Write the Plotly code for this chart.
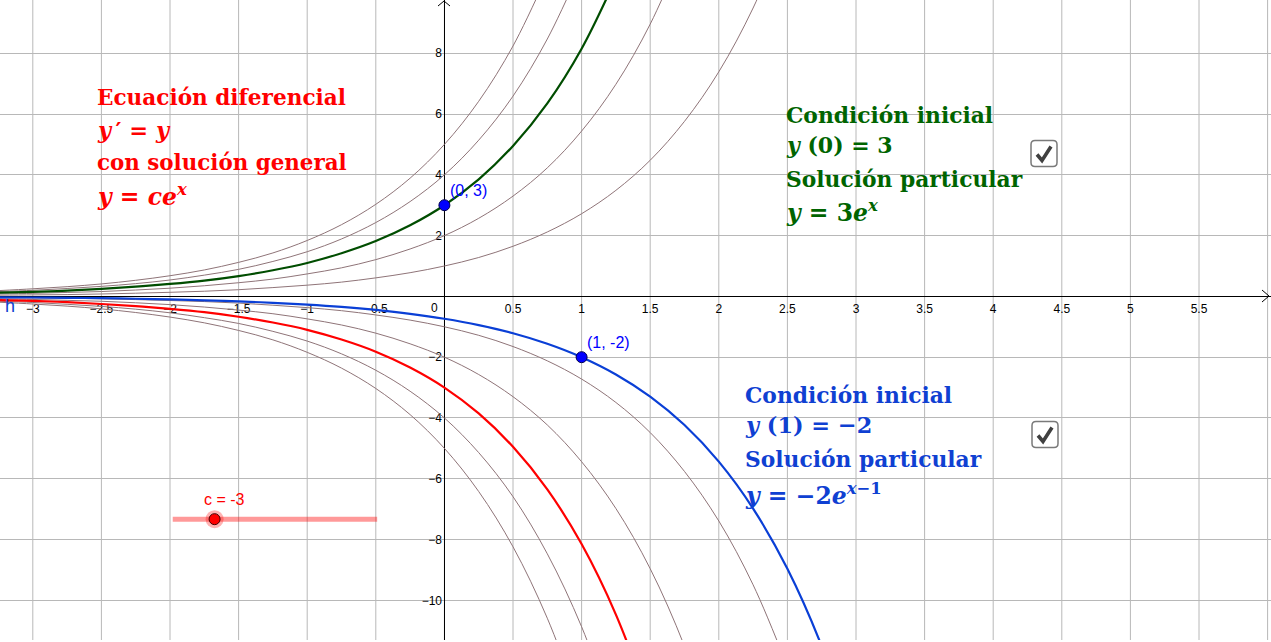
import plotly.graph_objects as go

W, H = 1271, 640
X0, XS = 444.4, 137.2
Y0, YS = 296.4, 30.39

x_samples = [-3.25, -3, -2.75, -2.5, -2.25, -2, -1.75, -1.5, -1.25, -1, -0.75, -0.5, -0.25,
             0, 0.25, 0.5, 0.75, 1, 1.25, 1.5, 1.75, 2, 2.25, 2.5, 2.75, 3]

thin_p1 = [.04, .05, .06, .08, .105, .135, .17, .22, .29, .37, .47, .61, .78, 1, 1.28, 1.65, 2.12, 2.72, 3.49, 4.48, 5.76, 7.39, 9.49, 12.18]
thin_p2 = [.08, .10, .13, .16, .21, .27, .35, .45, .57, .74, .94, 1.21, 1.56, 2, 2.57, 3.30, 4.23, 5.44, 6.98, 8.96, 11.51]
thin_p4 = [.16, .20, .26, .33, .42, .54, .70, .89, 1.15, 1.47, 1.89, 2.43, 3.12, 4, 5.14, 6.59, 8.47, 10.87]
thin_p5 = [.19, .25, .32, .41, .53, .68, .87, 1.12, 1.43, 1.84, 2.36, 3.03, 3.89, 5, 6.42, 8.24, 10.59]
thin_n1 = [-.04, -.05, -.06, -.08, -.105, -.135, -.17, -.22, -.29, -.37, -.47, -.61, -.78, -1, -1.28, -1.65, -2.12, -2.72, -3.49, -4.48, -5.76, -7.39, -9.49, -12.18]
thin_n2 = [-.08, -.10, -.13, -.16, -.21, -.27, -.35, -.45, -.57, -.74, -.94, -1.21, -1.56, -2, -2.57, -3.30, -4.23, -5.44, -6.98, -8.96, -11.51, -14.78]
thin_n4 = [-.16, -.20, -.26, -.33, -.42, -.54, -.70, -.89, -1.15, -1.47, -1.89, -2.43, -3.12, -4, -5.14, -6.59, -8.47, -10.87, -13.96]
thin_n5 = [-.19, -.25, -.32, -.41, -.53, -.68, -.87, -1.12, -1.43, -1.84, -2.36, -3.03, -3.89, -5, -6.42, -8.24, -10.59, -13.59]
green_curve = [.12, .15, .19, .25, .32, .41, .52, .67, .86, 1.10, 1.42, 1.82, 2.34, 3, 3.85, 4.95, 6.35, 8.15, 10.47]
red_curve = [-.12, -.15, -.19, -.25, -.32, -.41, -.52, -.67, -.86, -1.10, -1.42, -1.82, -2.34, -3, -3.85, -4.95, -6.35, -8.15, -10.47, -13.45]
blue_curve = [-.029, -.037, -.047, -.060, -.077, -.100, -.128, -.164, -.211, -.271, -.347, -.446, -.573, -.736,
              -.945, -1.213, -1.558, -2, -2.568, -3.297, -4.234, -5.437, -6.981, -8.963, -11.51, -14.78]

x_ticks = [-3, -2.5, -2, -1.5, -1, -0.5, 0.5, 1, 1.5, 2, 2.5, 3, 3.5, 4, 4.5, 5, 5.5]
x_labels = ["\u22123", "\u22122.5", "\u22122", "\u22121.5", "\u22121", "\u22120.5", "0.5", "1", "1.5", "2", "2.5", "3", "3.5", "4", "4.5", "5", "5.5"]
y_ticks = [-10, -8, -6, -4, -2, 2, 4, 6, 8]
y_labels = ["\u221210", "\u22128", "\u22126", "\u22124", "\u22122", "2", "4", "6", "8"]
x_grid = [-3, -2.5, -2, -1.5, -1, -0.5, 0, 0.5, 1, 1.5, 2, 2.5, 3, 3.5, 4, 4.5, 5, 5.5, 6]

points_x = [0, 1]
points_y = [3, -2]
slider_x = [-1.98, -0.49]
slider_y = [-7.33, -7.33]
slider_knob_x = [-1.675]
slider_knob_y = [-7.33]

THIN = "#8f7478"
GREEN = "#004d00"
RED = "#ff0000"
BLUE = "#0a3fd6"
GRID = "#b8b8b8"
TXT_G = "#006400"
TXT_B = "#0f40d2"
SERIF = "DejaVu Serif"
SANS = "Liberation Sans"


def fx(px):
    return px / W


def fy(py):
    return 1 - py / H


fig = go.Figure()
for ys in [thin_p1, thin_p2, thin_p4, thin_p5, thin_n1, thin_n2, thin_n4, thin_n5]:
    fig.add_trace(go.Scatter(x=x_samples[:len(ys)], y=ys, mode="lines",
                             line=dict(color=THIN, width=1, shape="spline"), hoverinfo="skip"))
for ys, col in [(green_curve, GREEN), (red_curve, RED), (blue_curve, BLUE)]:
    fig.add_trace(go.Scatter(x=x_samples[:len(ys)], y=ys, mode="lines",
                             line=dict(color=col, width=2.2, shape="spline"), hoverinfo="skip"))
fig.add_trace(go.Scatter(x=points_x, y=points_y, mode="markers",
                         marker=dict(color="#0000ff", size=11, line=dict(color="#00004d", width=1)), hoverinfo="skip"))
fig.add_trace(go.Scatter(x=slider_x, y=slider_y, mode="lines",
                         line=dict(color="rgba(255,0,0,0.4)", width=5), hoverinfo="skip"))
fig.add_trace(go.Scatter(x=slider_knob_x, y=slider_knob_y, mode="markers",
                         marker=dict(color="rgba(255,0,0,0.3)", size=18), hoverinfo="skip"))
fig.add_trace(go.Scatter(x=slider_knob_x, y=slider_knob_y, mode="markers",
                         marker=dict(color="#ff0000", size=11, line=dict(color="#400000", width=1)), hoverinfo="skip"))

annotations = []


def text(px, py, s, color, size, family=SERIF, anchor="left"):
    annotations.append(dict(xref="paper", yref="paper", x=fx(px), y=fy(py), text=s, showarrow=False,
                            xanchor=anchor, yanchor="middle", align="left", borderpad=0,
                            font=dict(color=color, size=size, family=family)))


SZ = 21.8
FORMULA = 23.5
text(95.5, 98, "<b>Ecuación diferencial</b>", RED, 21.6)
text(95.5, 130, "<b><i>y</i>\u2009\u2032 = <i>y</i></b>", RED, 22.5)
text(95.5, 162, "<b>con solución general</b>", RED, 21.4)
text(95.5, 195, "<b><i>y</i> = <i>ce<sup>x</sup></i></b>", RED, FORMULA)

text(784.5, 115, "<b>Condición inicial</b>", TXT_G, SZ)
text(784.5, 145, "<b><i>y</i> (0) = 3</b>", TXT_G, 22)
text(784.5, 179, "<b>Solución particular</b>", TXT_G, SZ)
text(784.5, 211, "<b><i>y</i> = 3<i>e<sup>x</sup></i></b>", TXT_G, FORMULA)

text(743.5, 395, "<b>Condición inicial</b>", TXT_B, SZ)
text(743.5, 425, "<b><i>y</i> (1) = \u22122</b>", TXT_B, 22.4)
text(743.5, 459, "<b>Solución particular</b>", TXT_B, SZ)
text(743.5, 494, "<b><i>y</i> = \u22122<i>e</i><sup><i>x</i>\u22121</sup></b>", TXT_B, FORMULA)

text(449, 190, "(0, 3)", "#0000ff", 16, SANS)
text(586, 342, "(1, -2)", "#0000ff", 16, SANS)
text(203, 499, "c = -3", "#ff0000", 16, SANS)
text(4, 305.5, "h", "#1040d0", 18, SANS)
text(430, 308, "0", "#000000", 12, SANS)

shapes = []
for px0, py0 in [(1031, 140.5), (1032, 421.5)]:
    a, b, r = 26, 26, 4
    path = (f"M {fx(px0 + r)} {fy(py0)} L {fx(px0 + a - r)} {fy(py0)} Q {fx(px0 + a)} {fy(py0)} {fx(px0 + a)} {fy(py0 + r)} "
            f"L {fx(px0 + a)} {fy(py0 + b - r)} Q {fx(px0 + a)} {fy(py0 + b)} {fx(px0 + a - r)} {fy(py0 + b)} "
            f"L {fx(px0 + r)} {fy(py0 + b)} Q {fx(px0)} {fy(py0 + b)} {fx(px0)} {fy(py0 + b - r)} "
            f"L {fx(px0)} {fy(py0 + r)} Q {fx(px0)} {fy(py0)} {fx(px0 + r)} {fy(py0)} Z")
    shapes.append(dict(type="path", xref="paper", yref="paper", path=path, fillcolor="white",
                       line=dict(color="#7a7a7a", width=1.5), layer="above"))
    chk = (f"M {fx(px0 + 6)} {fy(py0 + 14)} L {fx(px0 + 11)} {fy(py0 + 20)} L {fx(px0 + 20)} {fy(py0 + 6)}")
    shapes.append(dict(type="path", xref="paper", yref="paper", path=chk,
                       line=dict(color="#404040", width=3.6), layer="above"))

shapes.append(dict(type="path", xref="paper", yref="paper", line=dict(color="black", width=1),
                   path=f"M {fx(1262)} {fy(290)} L {fx(1269)} {fy(296)} L {fx(1262)} {fy(302)}"))
shapes.append(dict(type="path", xref="paper", yref="paper", line=dict(color="black", width=1),
                   path=f"M {fx(438)} {fy(6)} L {fx(444)} {fy(1)} L {fx(450)} {fy(6)}"))

fig.update_layout(
    width=W, height=H, autosize=False,
    margin=dict(l=0, r=0, t=0, b=0, pad=0),
    paper_bgcolor="white", plot_bgcolor="white",
    showlegend=False,
    annotations=annotations, shapes=shapes,
    xaxis=dict(range=[(0 - X0) / XS, (W - X0) / XS], anchor="free", position=fy(Y0),
               tickmode="array", tickvals=x_ticks, ticktext=x_labels, ticks="", ticklabelstandoff=1,
               tickfont=dict(family=SANS, size=12, color="#000000"),
               showgrid=False, zeroline=False, showline=True, linecolor="black", linewidth=1, layer="below traces"),
    yaxis=dict(range=[(Y0 - H) / YS, Y0 / YS], anchor="free", position=fx(X0),
               tickmode="array", tickvals=y_ticks, ticktext=y_labels, ticks="",
               tickfont=dict(family=SANS, size=12, color="#000000"),
               showgrid=True, gridcolor=GRID, gridwidth=1, zeroline=False,
               showline=True, linecolor="black", linewidth=1, layer="below traces"),
)
for v in x_grid:
    fig.add_vline(x=v, line=dict(color=GRID, width=1), layer="below")

fig.write_html("out.html", config={"displayModeBar": False},
               post_script="document.body.style.margin='0';document.body.style.overflow='hidden';")
